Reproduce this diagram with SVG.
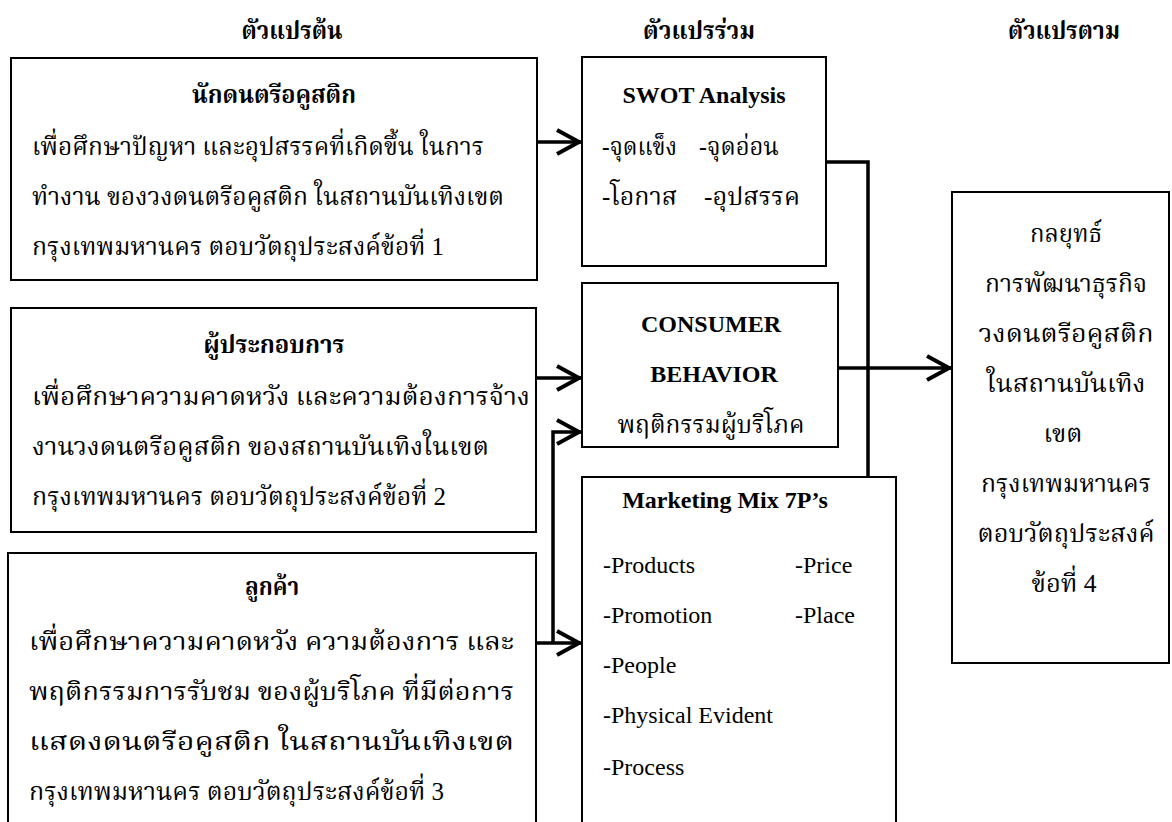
<svg xmlns="http://www.w3.org/2000/svg" width="1172" height="822" viewBox="0 0 1172 822">
<defs>
<style>
.box{fill:#fff;stroke:#000;stroke-width:2}
.th{font-family:'Liberation Serif','Noto Serif Thai','Noto Sans Thai','Tlwg Typo',serif;font-size:25px;fill:#000}
.thb{font-family:'Liberation Serif','Noto Serif Thai','Noto Sans Thai','Tlwg Typo',serif;font-size:25px;font-weight:bold;fill:#000}
.en{font-family:'Liberation Serif','Times New Roman',serif;font-size:24px;fill:#000}
.enb{font-family:'Liberation Serif','Times New Roman',serif;font-size:24px;font-weight:bold;fill:#000}
.c{text-anchor:middle}
.conn{fill:none;stroke:#000;stroke-width:3.5}
</style>
<marker id="ah" markerUnits="userSpaceOnUse" markerWidth="32" markerHeight="30" viewBox="0 0 32 30" refX="29" refY="15" orient="auto">
<path d="M4,3 L26,15 L4,27" fill="none" stroke="#000" stroke-width="4"/>
</marker>
</defs>
<rect width="1172" height="822" fill="#fff"/>

<g id="headers">
<text class="thb c" x="292" y="39" textLength="101" lengthAdjust="spacingAndGlyphs">ตัวแปรต้น</text>
<text class="thb c" x="699" y="39" textLength="112" lengthAdjust="spacingAndGlyphs">ตัวแปรร่วม</text>
<text class="thb c" x="1064" y="39" textLength="112" lengthAdjust="spacingAndGlyphs">ตัวแปรตาม</text>
</g>

<g id="node-musicians">
<rect class="box" x="11" y="58" width="526" height="222"/>
<text class="thb c" x="274" y="103" textLength="164" lengthAdjust="spacingAndGlyphs">นักดนตรีอคูสติก</text>
<text class="th" x="32" y="155" textLength="452" lengthAdjust="spacingAndGlyphs">เพื่อศึกษาปัญหา และอุปสรรคที่เกิดขึ้น ในการ</text>
<text class="th" x="32" y="205" textLength="472" lengthAdjust="spacingAndGlyphs">ทำงาน ของวงดนตรีอคูสติก ในสถานบันเทิงเขต</text>
<text class="th" x="32" y="255" textLength="412" lengthAdjust="spacingAndGlyphs">กรุงเทพมหานคร ตอบวัตถุประสงค์ข้อที่ 1</text>
</g>

<g id="node-operators">
<rect class="box" x="11" y="308" width="525" height="224"/>
<text class="thb c" x="274" y="353" textLength="141" lengthAdjust="spacingAndGlyphs">ผู้ประกอบการ</text>
<text class="th" x="32" y="405" textLength="498" lengthAdjust="spacingAndGlyphs">เพื่อศึกษาความคาดหวัง และความต้องการจ้าง</text>
<text class="th" x="32" y="455" textLength="457" lengthAdjust="spacingAndGlyphs">งานวงดนตรีอคูสติก ของสถานบันเทิงในเขต</text>
<text class="th" x="32" y="505" textLength="414" lengthAdjust="spacingAndGlyphs">กรุงเทพมหานคร ตอบวัตถุประสงค์ข้อที่ 2</text>
</g>

<g id="node-customers">
<rect class="box" x="8" y="553" width="528" height="290"/>
<text class="thb c" x="272" y="595" textLength="54" lengthAdjust="spacingAndGlyphs">ลูกค้า</text>
<text class="th" x="29" y="650" textLength="485" lengthAdjust="spacingAndGlyphs">เพื่อศึกษาความคาดหวัง ความต้องการ และ</text>
<text class="th" x="29" y="700" textLength="485" lengthAdjust="spacingAndGlyphs">พฤติกรรมการรับชม ของผู้บริโภค ที่มีต่อการ</text>
<text class="th" x="29" y="750" textLength="485" lengthAdjust="spacingAndGlyphs">แสดงดนตรีอคูสติก ในสถานบันเทิงเขต</text>
<text class="th" x="29" y="800" textLength="415" lengthAdjust="spacingAndGlyphs">กรุงเทพมหานคร ตอบวัตถุประสงค์ข้อที่ 3</text>
</g>

<g id="node-swot">
<rect class="box" x="582" y="57" width="244" height="209"/>
<text class="enb c" x="704" y="103">SWOT Analysis</text>
<text class="th" x="602" y="155" textLength="75" lengthAdjust="spacingAndGlyphs">-จุดแข็ง</text>
<text class="th" x="699" y="155" textLength="80" lengthAdjust="spacingAndGlyphs">-จุดอ่อน</text>
<text class="th" x="602" y="205" textLength="75" lengthAdjust="spacingAndGlyphs">-โอกาส</text>
<text class="th" x="704" y="205" textLength="96" lengthAdjust="spacingAndGlyphs">-อุปสรรค</text>
</g>

<g id="node-consumer">
<rect class="box" x="582" y="283" width="256" height="164"/>
<text class="enb c" x="711" y="332">CONSUMER</text>
<text class="enb c" x="714" y="382">BEHAVIOR</text>
<text class="th c" x="711" y="433" textLength="187" lengthAdjust="spacingAndGlyphs">พฤติกรรมผู้บริโภค</text>
</g>

<g id="node-marketing">
<rect class="box" x="582" y="477" width="314" height="366"/>
<text class="enb c" x="725" y="508">Marketing Mix 7P’s</text>
<text class="en" x="603" y="573">-Products</text>
<text class="en" x="795" y="573">-Price</text>
<text class="en" x="603" y="623">-Promotion</text>
<text class="en" x="795" y="623">-Place</text>
<text class="en" x="603" y="673">-People</text>
<text class="en" x="603" y="723">-Physical Evident</text>
<text class="en" x="603" y="775">-Process</text>
</g>

<g id="node-strategy">
<rect class="box" x="952" y="192" width="217" height="471"/>
<text class="th c" x="1066" y="242" textLength="72" lengthAdjust="spacingAndGlyphs">กลยุทธ์</text>
<text class="th c" x="1066" y="292" textLength="162" lengthAdjust="spacingAndGlyphs">การพัฒนาธุรกิจ</text>
<text class="th c" x="1066" y="342" textLength="175" lengthAdjust="spacingAndGlyphs">วงดนตรีอคูสติก</text>
<text class="th c" x="1066" y="392" textLength="159" lengthAdjust="spacingAndGlyphs">ในสถานบันเทิง</text>
<text class="th c" x="1063" y="442" textLength="39" lengthAdjust="spacingAndGlyphs">เขต</text>
<text class="th c" x="1066" y="492" textLength="170" lengthAdjust="spacingAndGlyphs">กรุงเทพมหานคร</text>
<text class="th c" x="1066" y="542" textLength="177" lengthAdjust="spacingAndGlyphs">ตอบวัตถุประสงค์</text>
<text class="th c" x="1064" y="592" textLength="65" lengthAdjust="spacingAndGlyphs">ข้อที่ 4</text>
</g>

<g id="connectors">
<path class="conn" d="M537,142 H582" marker-end="url(#ah)"/>
<path class="conn" d="M536,378 H582" marker-end="url(#ah)"/>
<path class="conn" d="M536,643 H582" marker-end="url(#ah)"/>
<path class="conn" d="M553,643 V432 H582" marker-end="url(#ah)"/>
<path class="conn" d="M826,162 H868 V477"/>
<path class="conn" d="M838,368 H952" marker-end="url(#ah)"/>
</g>
</svg>
